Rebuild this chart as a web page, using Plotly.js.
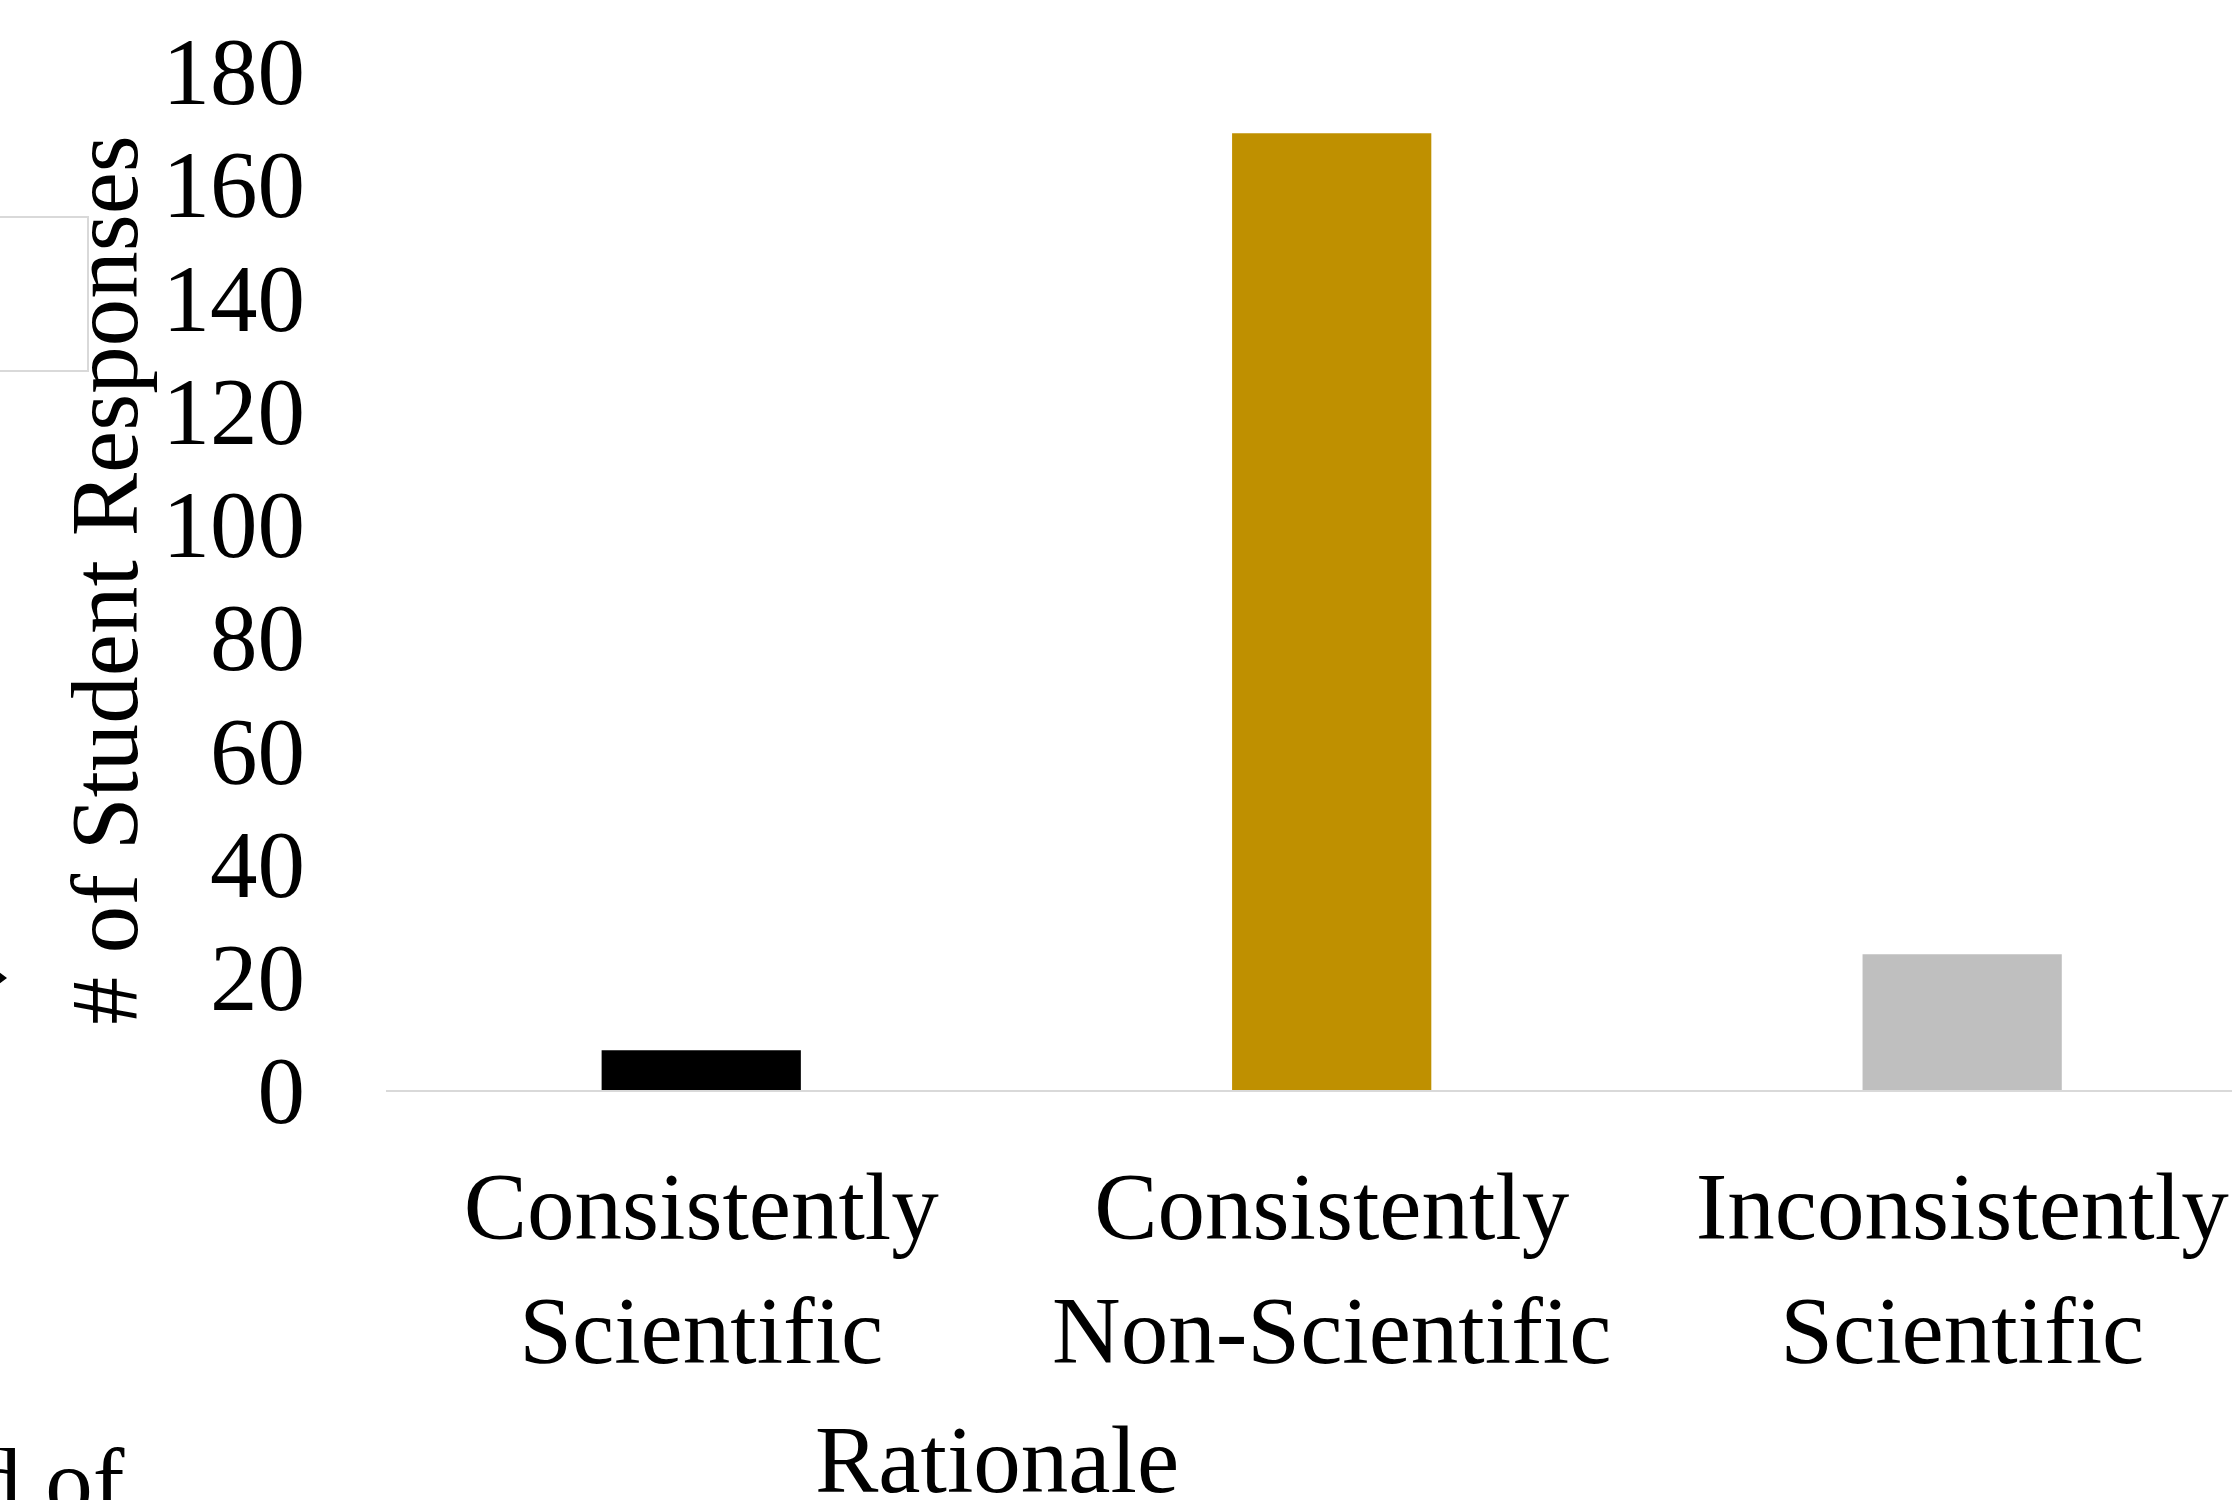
<!DOCTYPE html>
<html>
<head>
<meta charset="utf-8">
<script src="https://cdn.plot.ly/plotly-3.0.1.min.js"></script>
<style>
  html, body { margin: 0; padding: 0; background: #ffffff; overflow: hidden; }
  #chart { width: 2232px; height: 1500px; }
</style>
</head>
<body>
<div id="chart"></div>
<script>
// ---- data ----
const categories = [
  "Consistently<br>Scientific",
  "Consistently<br>Non-Scientific",
  "Inconsistently<br>Scientific"
];
const studentResponses = [7, 169, 24];
const barColors = ["#000000", "#BF9000", "#BFBFBF"];
const yTickValues = [0, 20, 40, 60, 80, 100, 120, 140, 160, 180];
const xAxisTitle = "Rationale";
const yAxisTitle = "# of Student Responses";
const leftFragmentText = "d of";

// ---- geometry helpers (page pixels -> paper coords) ----
const W = 2232, H = 1500;
const plotLeft = 386, plotTop = 71, plotBottom = 1090;
const plotW = W - plotLeft, plotH = plotBottom - plotTop;
const px = x => (x - plotLeft) / plotW;
const py = y => (plotBottom - y) / plotH;

const serif = '"Liberation Serif", "Times New Roman", Times, serif';

const trace = {
  type: "bar",
  x: categories,
  y: studentResponses,
  marker: { color: barColors, line: { width: 0 } },
  hoverinfo: "x+y"
};

const layout = {
  width: W,
  height: H,
  paper_bgcolor: "#ffffff",
  plot_bgcolor: "#ffffff",
  margin: { l: plotLeft, r: 0, t: plotTop, b: H - plotBottom, pad: 0 },
  showlegend: false,
  bargap: 0.684,
  font: { family: serif, color: "#000000", size: 95 },
  xaxis: {
    type: "category",
    range: [-0.5, 2.428],
    showgrid: false,
    zeroline: false,
    showline: true,
    linecolor: "#D9D9D9",
    linewidth: 2,
    ticks: "",
    ticklabelstandoff: 33,
    tickfont: { family: serif, size: 95, color: "#000000" },
    fixedrange: true
  },
  yaxis: {
    range: [0, 180],
    tickvals: yTickValues,
    ticktext: yTickValues.map(String),
    showgrid: false,
    zeroline: false,
    showline: false,
    ticks: "",
    ticklabelstandoff: 80,
    tickfont: { family: serif, size: 95, color: "#000000" },
    fixedrange: true
  },
  annotations: [
    {
      text: yAxisTitle,
      xref: "paper", yref: "paper",
      x: px(104), y: 0.5,
      xanchor: "center", yanchor: "middle",
      textangle: -90,
      showarrow: false,
      font: { family: serif, size: 95, color: "#000000" }
    },
    {
      text: xAxisTitle,
      xref: "paper", yref: "paper",
      x: px(997), y: py(1460),
      xanchor: "center", yanchor: "middle",
      showarrow: false,
      font: { family: serif, size: 95, color: "#000000" }
    },
    {
      text: leftFragmentText,
      xref: "paper", yref: "paper",
      x: px(-28), y: py(1482),
      xanchor: "left", yanchor: "middle",
      showarrow: false,
      font: { family: serif, size: 95, color: "#000000" }
    }
  ],
  shapes: [
    {
      type: "rect",
      xref: "paper", yref: "paper",
      x0: px(-20), x1: px(88),
      y0: py(371), y1: py(217),
      line: { color: "#D9D9D9", width: 2 },
      fillcolor: "#FFFFFF",
      layer: "below"
    },
    {
      type: "path",
      xref: "paper", yref: "paper",
      path: "M " + px(-1) + " " + py(972) + " L " + px(7) + " " + py(978) + " L " + px(-1) + " " + py(984) + " Z",
      fillcolor: "#000000",
      line: { width: 0 }
    }
  ]
};

Plotly.newPlot("chart", [trace], layout, { staticPlot: true, displayModeBar: false });
</script>
</body>
</html>
